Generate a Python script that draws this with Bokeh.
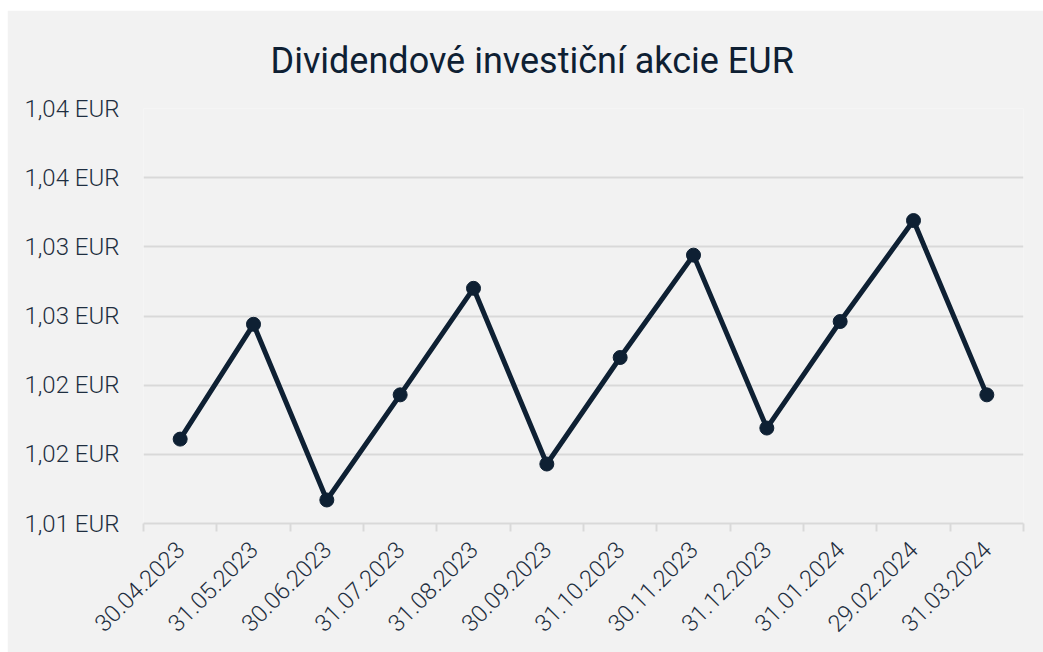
from bokeh.plotting import figure
from bokeh.models import FixedTicker, Range1d
from bokeh.embed import file_html
from bokeh.resources import INLINE
from math import pi

dates = ["30.04.2023", "31.05.2023", "30.06.2023", "31.07.2023", "31.08.2023",
         "30.09.2023", "31.10.2023", "30.11.2023", "31.12.2023", "31.01.2024",
         "29.02.2024", "31.03.2024"]
values = [1.0161, 1.0244, 1.0117, 1.0193, 1.0270, 1.0143, 1.0220, 1.0294,
          1.0169, 1.0246, 1.0319, 1.0193]
y_ticks = [1.010, 1.015, 1.020, 1.025, 1.030, 1.035, 1.040]
y_tick_labels = ["1,01 EUR", "1,02 EUR", "1,02 EUR", "1,03 EUR", "1,03 EUR",
                 "1,04 EUR", "1,04 EUR"]
title_text = "Dividendové investiční akcie EUR"

BG = "#f2f2f2"
NAVY = "#0e2033"
TXT = "#1e2e40"
GRID = "#d9d9d9"

xs = list(range(len(dates)))

p = figure(width=1036, height=642, output_backend="svg", toolbar_location=None,
           x_range=Range1d(-0.5, len(dates) - 0.5),
           y_range=Range1d(y_ticks[0], y_ticks[-1]),
           background_fill_color=BG, border_fill_color=BG,
           min_border_left=136, min_border_right=20,
           min_border_top=97, min_border_bottom=129)
p.margin = (10, 0, 0, 7)
p.outline_line_color = None

p.title.text = title_text
p.title.text_font = "Roboto"
p.title.text_font_size = "36px"
p.title.text_font_style = "normal"
p.title.text_color = NAVY
p.title.align = "left"
p.title.offset = 127
p.title.standoff = 54

p.line(xs, values, line_color=NAVY, line_width=5, line_join="round")
p.scatter(xs, values, size=14, fill_color=NAVY, line_color=NAVY)

# x axis
p.xaxis.ticker = FixedTicker(ticks=xs, minor_ticks=[x - 0.5 for x in xs] + [len(xs) - 0.5])
p.xaxis.major_label_overrides = {x: d for x, d in zip(xs, dates)}
p.xaxis.major_label_orientation = pi / 4
p.xaxis.major_tick_line_color = None
p.xaxis.major_tick_out = 0
p.xaxis.major_tick_in = 0
p.xaxis.minor_tick_out = 8
p.xaxis.minor_tick_in = 0
p.xaxis.minor_tick_line_color = GRID
p.xaxis.minor_tick_line_width = 2
p.xaxis.axis_line_color = GRID
p.xaxis.axis_line_width = 2
p.xaxis.major_label_text_font = "Roboto Light"
p.xaxis.major_label_text_font_size = "23.5px"
p.xaxis.major_label_text_color = TXT
p.xaxis.major_label_standoff = 14

# y axis
p.yaxis.ticker = FixedTicker(ticks=y_ticks)
p.yaxis.major_label_overrides = {t: l for t, l in zip(y_ticks, y_tick_labels)}
p.yaxis.axis_line_color = None
p.yaxis.major_tick_line_color = None
p.yaxis.major_tick_out = 0
p.yaxis.major_tick_in = 0
p.yaxis.minor_tick_line_color = None
p.yaxis.major_label_text_font = "Roboto Light"
p.yaxis.major_label_text_font_size = "24px"
p.yaxis.major_label_text_color = TXT
p.yaxis.major_label_standoff = 24

p.xgrid.grid_line_color = None
p.ygrid.grid_line_color = GRID
p.ygrid.grid_line_width = 2

open("out.html", "w").write(file_html(p, INLINE))
